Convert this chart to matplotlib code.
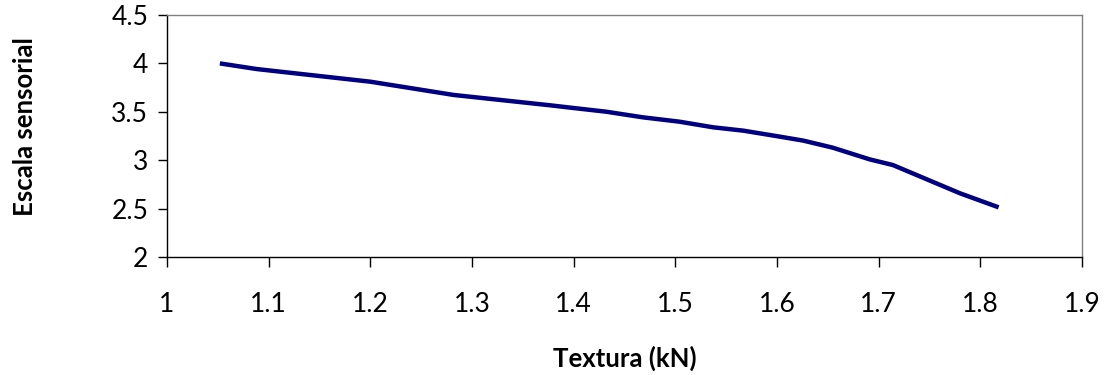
import matplotlib
matplotlib.use("Agg")
import matplotlib.pyplot as plt

# Textura (kN) vs Escala sensorial
textura = [1.052, 1.088, 1.200, 1.282, 1.377, 1.400, 1.432, 1.468, 1.504,
           1.537, 1.567, 1.603, 1.626, 1.655, 1.691, 1.714, 1.740, 1.780, 1.818]
escala = [4.00, 3.942, 3.811, 3.674, 3.567, 3.539, 3.501, 3.443, 3.398,
          3.340, 3.305, 3.243, 3.202, 3.129, 3.009, 2.950, 2.835, 2.658, 2.513]

xticks = [1, 1.1, 1.2, 1.3, 1.4, 1.5, 1.6, 1.7, 1.8, 1.9]
xticklabels = ["1", "1.1", "1.2", "1.3", "1.4", "1.5", "1.6", "1.7", "1.8", "1.9"]
yticks = [2, 2.5, 3, 3.5, 4, 4.5]
yticklabels = ["2", "2.5", "3", "3.5", "4", "4.5"]

plt.rcParams['font.family'] = ['Lato', 'DejaVu Sans']

fig = plt.figure(figsize=(11.07, 3.75), dpi=100)
ax = fig.add_axes([167 / 1107, 1 - 257 / 375, 915 / 1107, 242 / 375])

ax.plot(textura, escala, color="#000080", linewidth=3.2, solid_capstyle="butt")

ax.set_xlim(1, 1.9)
ax.set_ylim(2, 4.5)
ax.set_xticks(xticks)
ax.set_xticklabels(xticklabels)
ax.set_yticks(yticks)
ax.set_yticklabels(yticklabels)

ax.tick_params(axis="x", direction="out", length=7, width=1, pad=18, labelsize=19)
ax.tick_params(axis="y", direction="out", length=6.5, width=1, pad=7, labelsize=19)

for side in ["left", "bottom"]:
    ax.spines[side].set_color("black")
    ax.spines[side].set_linewidth(1)
for side in ["top", "right"]:
    ax.spines[side].set_color("#808080")
    ax.spines[side].set_linewidth(1)

ax.set_xlabel("Textura (kN)", fontsize=18.5, fontweight="bold", va="center")
ax.xaxis.set_label_coords(0.5, -0.42)
ax.set_ylabel("Escala sensorial", fontsize=18.5, fontweight="bold", va="center")
ax.yaxis.set_label_coords(-0.155, 0.537)

fig.savefig("out.png", dpi=100)
